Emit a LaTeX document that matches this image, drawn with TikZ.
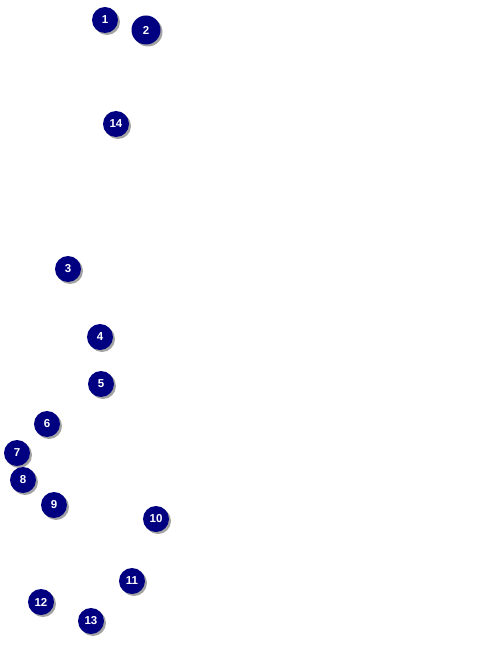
\documentclass[tikz,border=0pt]{standalone}
\usepackage{fontspec}
\setmainfont{Liberation Sans}
\usepackage{tikz}
\usepackage{xcolor}
\usetikzlibrary{shadows}
\definecolor{Navy}{HTML}{000080}
\definecolor{Shade}{HTML}{8C8C8C}

\begin{document}
\begin{tikzpicture}[
  x=1pt,y=-1pt,
  marker/.style={circle,fill=Navy,draw=none,minimum size=26pt,inner sep=0pt,text=white,font=\fontsize{11.5}{13}\selectfont\bfseries,
    drop shadow={shadow xshift=2pt,shadow yshift=-2pt,fill=Shade,opacity=0.8}}
]
\useasboundingbox (0,0) rectangle (476,647);
\node[marker] (m1) at (105,20) {1};
\node[marker,minimum size=29pt] (m2) at (146,30) {2};
\node[marker] (m14) at (116,124) {14};
\node[marker] (m3) at (68,269) {3};
\node[marker] (m4) at (100,337) {4};
\node[marker] (m5) at (101,384) {5};
\node[marker] (m6) at (47,424) {6};
\node[marker] (m7) at (17,453) {7};
\node[marker] (m8) at (23,480) {8};
\node[marker] (m9) at (54,505) {9};
\node[marker] (m10) at (156,519) {10};
\node[marker] (m11) at (132,581) {11};
\node[marker] (m12) at (41,602) {12};
\node[marker] (m13) at (91,621) {13};
\end{tikzpicture}
\end{document}
